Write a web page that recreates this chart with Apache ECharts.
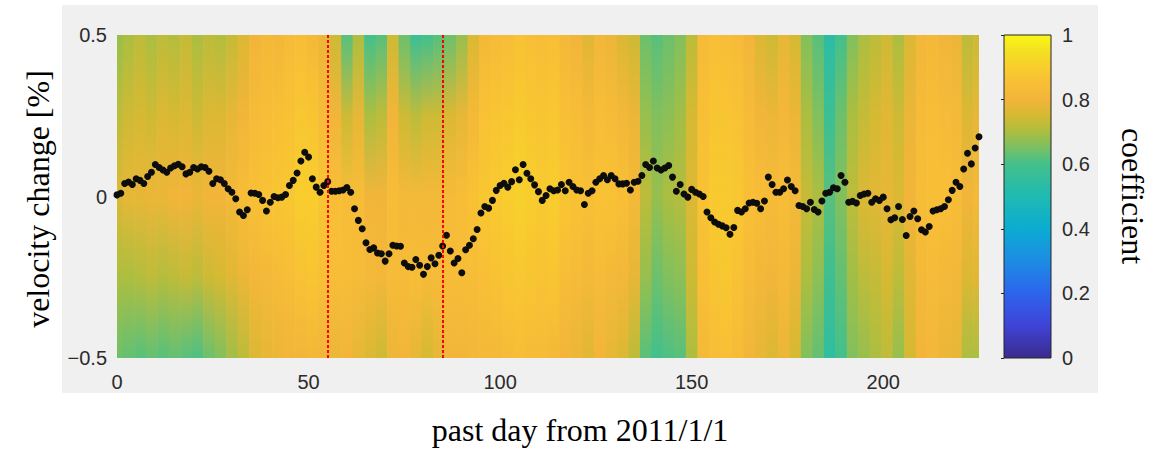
<!DOCTYPE html>
<html>
<head>
<meta charset="utf-8">
<script src="https://cdn.jsdelivr.net/npm/echarts@6/dist/echarts.min.js"></script>
<style>
  html, body { margin: 0; padding: 0; background: #ffffff; }
  #wrap { position: relative; width: 1159px; height: 450px; }
  #panel { position: absolute; left: 62px; top: 5px; width: 1036px; height: 388px; background: #f0f0f0; }
  #chart { position: absolute; left: 0; top: 0; width: 1159px; height: 450px; }
</style>
</head>
<body>
<div id="wrap"><div id="panel"></div><div id="chart"></div></div>
<script>
// Daily velocity change [%] estimates, day 0 .. 225 since 2011/1/1
const velocity = [
  0.005, 0.010, 0.040, 0.045, 0.037, 0.055, 0.050, 0.040, 0.062, 0.075,
  0.099, 0.090, 0.082, 0.075, 0.088, 0.095, 0.100, 0.092, 0.070, 0.075,
  0.090, 0.085, 0.092, 0.090, 0.078, 0.040, 0.055, 0.052, 0.040, 0.024,
  0.013, -0.007, -0.048, -0.059, -0.041, 0.011, 0.010, 0.006, -0.012, -0.045,
  -0.018, 0.000, -0.004, -0.002, 0.006, 0.034, 0.050, 0.073, 0.110, 0.137,
  0.122, 0.055, 0.029, 0.013, 0.034, 0.046, 0.016, 0.016, 0.018, 0.020,
  0.028, 0.013, -0.038, -0.074, -0.100, -0.143, -0.164, -0.159, -0.175, -0.177,
  -0.200, -0.177, -0.151, -0.153, -0.154, -0.206, -0.217, -0.219, -0.195, -0.213,
  -0.241, -0.217, -0.190, -0.208, -0.182, -0.153, -0.120, -0.169, -0.206, -0.192,
  -0.236, -0.165, -0.151, -0.131, -0.102, -0.051, -0.031, -0.036, -0.012, 0.019,
  0.034, 0.041, 0.029, 0.046, 0.083, 0.052, 0.099, 0.072, 0.055, 0.036,
  0.015, -0.012, 0.003, 0.024, 0.018, 0.020, 0.037, 0.018, 0.044, 0.031,
  0.020, 0.018, -0.025, 0.010, 0.018, 0.044, 0.055, 0.065, 0.052, 0.065,
  0.055, 0.039, 0.039, 0.041, 0.020, 0.044, 0.047, 0.065, 0.099, 0.090,
  0.110, 0.088, 0.082, 0.088, 0.096, 0.060, 0.016, 0.037, 0.008, -0.002,
  0.022, 0.013, 0.008, 0.000, -0.048, -0.066, -0.079, -0.086, -0.091, -0.097,
  -0.117, -0.096, -0.043, -0.048, -0.038, -0.020, -0.018, -0.021, -0.038, -0.014,
  0.060, 0.037, 0.013, 0.013, 0.024, 0.051, 0.031, 0.018, -0.028, -0.031,
  -0.038, -0.018, -0.040, -0.048, -0.014, 0.010, 0.013, 0.027, 0.024, 0.065,
  0.044, -0.018, -0.015, -0.020, 0.003, 0.008, 0.010, -0.018, -0.007, -0.012,
  -0.002, -0.038, -0.072, -0.066, -0.031, -0.071, -0.121, -0.062, -0.045, -0.069,
  -0.103, -0.110, -0.093, -0.045, -0.041, -0.038, -0.031, -0.010, 0.019, 0.044,
  0.031, 0.085, 0.134, 0.101, 0.150, 0.185
];

// Days marked with dotted red lines
const eventDays = [55, 85];

// Correlation coefficient, one column per 3-day block, read at five velocity levels
const blockStep = 3;
const levels = [0.5, 0.25, 0, -0.25, -0.5];
const coefTop = [
  .68,.70,.72,.70,.72,.71,.73,.70,.72,.71,.73,.76,.80,.82,.81,.83,.84,.82,.79,.74,
  .62,.70,.60,.62,.74,.64,.58,.60,.62,.64,.68,.76,.82,.83,.84,.86,.85,.84,.85,.82,
  .80,.77,.81,.79,.76,.74,.64,.62,.64,.66,.72,.83,.85,.84,.83,.80,.76,.74,.78,.75,
  .66,.62,.54,.60,.66,.70,.72,.74,.70,.76,.81,.82,.80,.79,.72,.74
];
const coefUpper = [
  .72,.74,.75,.74,.76,.75,.76,.74,.76,.76,.78,.80,.83,.84,.85,.86,.88,.87,.83,.80,
  .74,.78,.70,.72,.80,.74,.72,.74,.74,.76,.78,.82,.86,.87,.88,.89,.88,.87,.88,.85,
  .84,.82,.84,.83,.81,.79,.68,.66,.67,.69,.75,.85,.87,.87,.86,.83,.80,.79,.81,.79,
  .70,.66,.58,.64,.70,.73,.75,.77,.74,.79,.83,.84,.83,.82,.76,.78
];
const coefMid = [
  .76,.78,.78,.79,.79,.80,.80,.79,.80,.80,.82,.84,.85,.86,.87,.88,.90,.90,.87,.85,
  .84,.84,.80,.80,.84,.82,.82,.82,.82,.83,.84,.86,.88,.89,.90,.91,.90,.89,.90,.87,
  .86,.85,.86,.86,.85,.82,.72,.68,.70,.71,.76,.86,.89,.89,.88,.85,.84,.83,.84,.82,
  .73,.70,.62,.66,.72,.76,.77,.78,.76,.80,.84,.85,.85,.84,.80,.82
];
const coefLower = [
  .70,.70,.71,.72,.71,.72,.73,.72,.74,.75,.77,.79,.81,.82,.83,.84,.86,.87,.85,.84,
  .84,.83,.82,.81,.83,.83,.84,.83,.83,.84,.84,.84,.85,.86,.87,.88,.87,.86,.87,.84,
  .83,.82,.83,.82,.81,.78,.68,.64,.66,.67,.74,.85,.87,.88,.86,.83,.81,.80,.82,.79,
  .70,.67,.59,.63,.69,.72,.73,.75,.72,.77,.82,.83,.82,.81,.76,.77
];
const coefBottom = [
  .64,.63,.62,.63,.62,.63,.62,.61,.64,.66,.69,.72,.76,.78,.79,.80,.80,.81,.80,.79,
  .80,.78,.76,.74,.79,.80,.78,.75,.78,.80,.80,.81,.82,.82,.83,.84,.83,.83,.82,.80,
  .79,.77,.80,.78,.76,.72,.62,.60,.61,.62,.70,.82,.84,.85,.83,.80,.78,.76,.79,.75,
  .66,.63,.55,.60,.66,.68,.70,.72,.68,.75,.80,.81,.79,.78,.70,.70
];

// Colour bar range
const coefMin = 0, coefMax = 1;

// Colour scale (coefficient -> colour)
const colorStops = [
  [0.00, '#3b2b8c'], [0.10, '#3f43d6'], [0.20, '#2d64ee'], [0.30, '#1d8ce4'],
  [0.40, '#0bacd2'], [0.50, '#1fbab2'], [0.60, '#43c08c'], [0.65, '#78c064'],
  [0.70, '#acbe40'], [0.75, '#d6b932'], [0.80, '#f2b53a'], [0.85, '#f8bf36'],
  [0.90, '#f8cd2d'], [0.95, '#f4e022'], [1.00, '#f9f815']
];

function hexToRgb(h) {
  return [parseInt(h.slice(1, 3), 16), parseInt(h.slice(3, 5), 16), parseInt(h.slice(5, 7), 16)];
}
function coefColor(v) {
  v = Math.max(coefMin, Math.min(coefMax, v));
  for (let i = 1; i < colorStops.length; i++) {
    if (v <= colorStops[i][0]) {
      const [v0, c0] = colorStops[i - 1];
      const [v1, c1] = colorStops[i];
      const t = (v - v0) / (v1 - v0);
      const a = hexToRgb(c0), b = hexToRgb(c1);
      const rgb = a.map((x, k) => Math.round(x + (b[k] - x) * t));
      return 'rgb(' + rgb.join(',') + ')';
    }
  }
  return colorStops[colorStops.length - 1][1];
}

const heatRows = coefTop.map((v, i) => [i * blockStep, coefTop[i], coefUpper[i], coefMid[i], coefLower[i], coefBottom[i]]);
const dots = velocity.map((v, i) => [i, v]);

function renderBlock(params, api) {
  const day = api.value(0);
  const cs = params.coordSys;
  const top = levels[0], bottom = levels[levels.length - 1];
  const a = api.coord([day - blockStep / 2, top]);
  const b = api.coord([day + blockStep / 2, bottom]);
  const x0 = Math.max(a[0], cs.x);
  const x1 = Math.min(b[0] + 0.6, cs.x + cs.width);
  const stops = levels.map((lv, k) => ({
    offset: (top - lv) / (top - bottom),
    color: coefColor(api.value(k + 1))
  }));
  return {
    type: 'rect',
    silent: true,
    shape: { x: x0, y: a[1], width: x1 - x0, height: b[1] - a[1] },
    style: { fill: new echarts.graphic.LinearGradient(0, 0, 0, 1, stops) }
  };
}

// Colour bar: gradient from top (coefMax) to bottom (coefMin), stops in ascending offset order
function renderColorBar(params, api) {
  const a = api.coord([0, api.value(1)]);
  const b = api.coord([1, api.value(0)]);
  const stops = colorStops.slice().reverse().map(s => ({ offset: (coefMax - s[0]) / (coefMax - coefMin), color: s[1] }));
  return {
    type: 'rect',
    silent: true,
    shape: { x: a[0], y: a[1], width: b[0] - a[0], height: b[1] - a[1] },
    style: { fill: new echarts.graphic.LinearGradient(0, 0, 0, 1, stops), stroke: '#262626', lineWidth: 1 }
  };
}

const tickFont = { fontFamily: '"Liberation Sans", Arial, Helvetica, sans-serif', fontSize: 20, color: '#2b2b2b' };
const titleFont = '32px "Liberation Serif", "Times New Roman", serif';

const chart = echarts.init(document.getElementById('chart'), null, { renderer: 'svg', width: 1159, height: 450 });
chart.setOption({
  animation: false,
  backgroundColor: 'transparent',
  grid: [
    { left: 117, top: 35, width: 862, height: 323 },
    { left: 1004, top: 35, width: 47, height: 323 }
  ],
  xAxis: [
    {
      gridIndex: 0, type: 'value', min: 0, max: 225, interval: 50,
      axisLine: { show: false }, axisTick: { show: false }, splitLine: { show: false },
      axisLabel: Object.assign({ margin: 14, formatter: v => (v % 50 === 0 ? String(v) : '') }, tickFont)
    },
    { gridIndex: 1, type: 'value', min: 0, max: 1, show: false }
  ],
  yAxis: [
    {
      gridIndex: 0, type: 'value', min: -0.5, max: 0.5, interval: 0.5,
      axisLine: { show: false }, axisTick: { show: false }, splitLine: { show: false },
      axisLabel: Object.assign({
        margin: 10,
        formatter: v => (v === 0 ? '0' : (v < 0 ? '\u2212' + Math.abs(v) : String(v)))
      }, tickFont)
    },
    {
      gridIndex: 1, type: 'value', min: coefMin, max: coefMax, interval: 0.2, position: 'right', z: 10,
      axisLine: { show: false },
      axisTick: { show: true, inside: true, length: 3, lineStyle: { color: '#262626', width: 1 } },
      splitLine: { show: false },
      axisLabel: Object.assign({ margin: 11, formatter: v => String(Math.round(v * 10) / 10) }, tickFont)
    }
  ],
  series: [
    {
      type: 'custom', xAxisIndex: 0, yAxisIndex: 0, z: 1,
      renderItem: renderBlock, data: heatRows,
      encode: { x: 0, y: 1 }
    },
    {
      type: 'scatter', xAxisIndex: 0, yAxisIndex: 0, z: 3,
      symbol: 'circle', symbolSize: 7,
      itemStyle: { color: '#0d0d0d', opacity: 1 },
      data: dots
    },
    {
      type: 'line', xAxisIndex: 0, yAxisIndex: 0, z: 5, data: [],
      markLine: {
        silent: true, symbol: 'none', label: { show: false },
        lineStyle: { color: '#ff0000', width: 2, type: [3, 2] },
        data: eventDays.map(d => ({ xAxis: d }))
      }
    },
    {
      type: 'custom', xAxisIndex: 1, yAxisIndex: 1, z: 2,
      renderItem: renderColorBar, data: [[coefMin, coefMax]],
      encode: { x: 0, y: 1 }
    }
  ],
  graphic: [
    {
      type: 'text', x: 38, y: 199, rotation: Math.PI / 2,
      style: { text: 'velocity change [%]', font: titleFont, fill: '#000', align: 'center', verticalAlign: 'middle' }
    },
    {
      type: 'text', x: 580, y: 430,
      style: { text: 'past day from 2011/1/1', font: titleFont, fill: '#000', align: 'center', verticalAlign: 'middle' }
    },
    {
      type: 'text', x: 1133, y: 196, rotation: -Math.PI / 2,
      style: { text: 'coefficient', font: titleFont, fill: '#000', align: 'center', verticalAlign: 'middle' }
    }
  ]
});
</script>
</body>
</html>
